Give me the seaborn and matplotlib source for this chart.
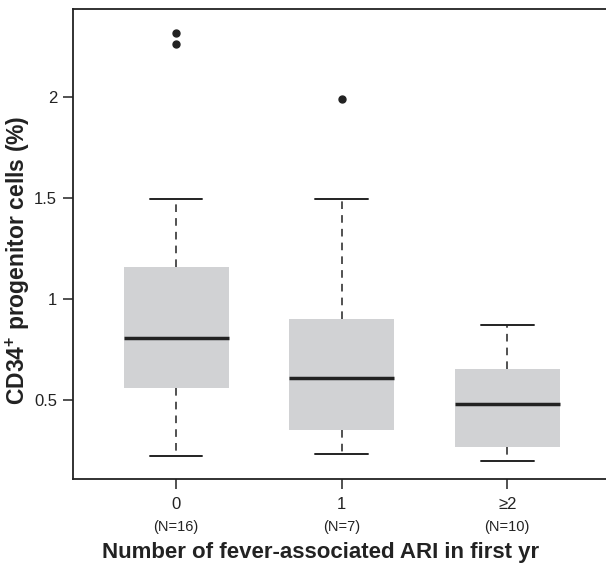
import matplotlib
matplotlib.use("Agg")
import matplotlib.pyplot as plt
import seaborn as sns
import pandas as pd

# Werte (CD34+ Anteil in %)
cats = ["0", "1", "≥2"]
n_labels = ["(N=16)", "(N=7)", "(N=10)"]
vals_0 = [0.223, 0.38, 0.47, 0.55, 0.562, 0.64, 0.71, 0.79,
          0.824, 0.93, 1.02, 1.14, 1.205, 1.495, 2.262, 2.317]
vals_1 = [0.234, 0.30, 0.353, 0.48, 0.607, 0.75, 0.901, 1.495, 1.99]
vals_2 = [0.198, 0.23, 0.26, 0.284, 0.46, 0.504, 0.62, 0.664, 0.76, 0.870]
ytick_vals = [0.5, 1, 1.5, 2]
ytick_labels = ["0.5", "1", "1.5", "2"]

df = pd.DataFrame({
    "group": [cats[0]] * len(vals_0) + [cats[1]] * len(vals_1) + [cats[2]] * len(vals_2),
    "value": vals_0 + vals_1 + vals_2,
})

sns.set_theme(style="ticks")
plt.rcParams["font.family"] = ["Liberation Sans", "DejaVu Sans"]
plt.rcParams["mathtext.fontset"] = "custom"
plt.rcParams["mathtext.rm"] = "Liberation Sans"
plt.rcParams["mathtext.bf"] = "Liberation Sans:bold"

dark = "#222222"
fig = plt.figure(figsize=(6.06, 5.66), dpi=100)
ax = fig.add_axes([0.1205, 0.1537, 0.8795, 0.8304])

sns.boxplot(data=df, x="group", y="value", order=cats, ax=ax,
            color="#d1d2d4", saturation=1, width=0.634, whis=1.5,
            linecolor=dark,
            boxprops=dict(linewidth=0, edgecolor="none"),
            medianprops=dict(color=dark, linewidth=2.5),
            whiskerprops=dict(color=dark, linewidth=1.1, linestyle=(0, (5, 4))),
            capprops=dict(color=dark, linewidth=1.4),
            flierprops=dict(marker="o", markersize=5, markerfacecolor=dark,
                            markeredgecolor=dark))

ax.set_xlim(-0.622, 2.596)
ax.set_ylim(0.109, 2.436)
ax.set_yticks(ytick_vals)
ax.set_yticklabels(ytick_labels)
ax.set_xticks(range(len(cats)))
ax.set_xticklabels(cats)
ax.tick_params(axis="both", length=7.5, width=1.1, color=dark,
               labelsize=12, labelcolor=dark, pad=4)
ax.tick_params(axis="x", pad=5.5)

# N-Angaben unter den Kategorien
for i, lab in enumerate(n_labels):
    ax.text(i, -0.103, lab, transform=ax.get_xaxis_transform(),
            ha="center", va="center", fontsize=10.5, color=dark)

ax.spines["right"].set_visible(False)
for s in ["left", "top", "bottom"]:
    ax.spines[s].set_linewidth(1.3)
    ax.spines[s].set_color(dark)

ax.set_xlabel("Number of fever-associated ARI in first yr", fontsize=16,
              fontweight="bold", color=dark, va="center")
ax.xaxis.set_label_coords(0.464, -0.157)
ax.set_ylabel(r"CD34$^{\mathbf{+}}$ progenitor cells (%)", fontsize=16.5,
              fontweight="bold", color=dark, va="center")
ax.yaxis.set_label_coords(-0.104, 0.466)

fig.savefig("out.png", dpi=100)
